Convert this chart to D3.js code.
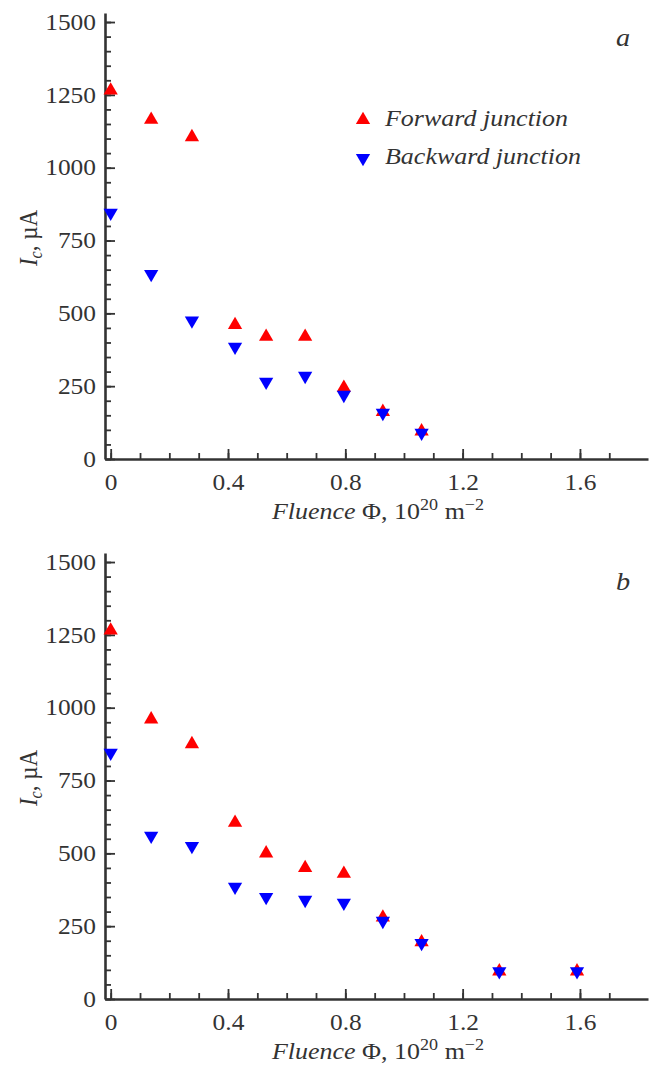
<!DOCTYPE html>
<html>
<head>
<meta charset="utf-8">
<script src="https://cdn.jsdelivr.net/npm/d3@7"></script>
<style>
  body { margin: 0; background: #fff; }
  svg text { font-family: "Liberation Serif", "Times New Roman", serif; fill: #333; }
</style>
</head>
<body>
<div id="chart"></div>
<script>
// fluence values (10^20 m^-2)
const fluenceA = [0, 0.138, 0.277, 0.424, 0.53, 0.663, 0.795, 0.928, 1.06];
const fluenceB = [0, 0.138, 0.277, 0.424, 0.53, 0.663, 0.795, 0.928, 1.06, 1.325, 1.59];

// critical current, uA
const forwardA = [1265, 1165, 1105, 460, 420, 420, 245, 162, 95];
const backwardA = [845, 635, 475, 385, 265, 285, 220, 158, 90];
const forwardB = [1265, 960, 875, 605, 500, 450, 430, 280, 195, 95, 95];
const backwardB = [845, 560, 525, 385, 350, 340, 330, 268, 192, 95, 95];

const seriesNames = ["Forward junction", "Backward junction"];
const seriesColors = ["#ff0000", "#0000ff"];
const xTicks = [0, 0.4, 0.8, 1.2, 1.6];
const yTicks = [0, 250, 500, 750, 1000, 1250, 1500];

const width = 650, height = 1073;
const sx = 1.13; // text in the figure is a bit wider than tall

const svg = d3.select("#chart").append("svg")
  .attr("width", width)
  .attr("height", height);

const tri = d3.symbol().type(d3.symbolTriangle).size(88)();

function panel(top, xs, fwd, bwd, letter, leg) {
  const g = svg.append("g").attr("transform", `translate(0,${top})`);

  const x = d3.scaleLinear().domain([-0.0194, 1.832]).range([105, 648]);
  const y = d3.scaleLinear().domain([0, 1531]).range([459, 13]);

  // minor ticks
  g.append("g")
    .attr("transform", "translate(105,0)")
    .call(d3.axisLeft(y).tickValues(d3.range(0, 1501, 50)).tickSize(-6).tickFormat(""))
    .call(s => s.select(".domain").remove());
  g.append("g")
    .attr("transform", "translate(0,459)")
    .call(d3.axisBottom(x).tickValues(d3.range(0, 18).map(i => i / 10)).tickSize(-6).tickFormat(""))
    .call(s => s.select(".domain").remove());

  // major ticks + labels
  const ya = g.append("g")
    .attr("transform", "translate(105,0)")
    .call(d3.axisLeft(y).tickValues(yTicks).tickSize(-10).tickSizeOuter(0).tickPadding(9)
      .tickFormat(d3.format("d")));
  const xa = g.append("g")
    .attr("transform", "translate(0,459)")
    .call(d3.axisBottom(x).tickValues(xTicks).tickSize(-10).tickSizeOuter(0).tickPadding(15)
      .tickFormat(d => d === 0 ? "0" : d3.format(".1f")(d)));

  g.selectAll(".tick line").attr("stroke", "#333").attr("stroke-width", 1.8);
  [ya, xa].forEach(a => {
    a.select(".domain").attr("stroke", "#333").attr("stroke-width", 2.6);
    a.selectAll("text")
      .attr("font-size", 22.5)
      .attr("fill", "#333")
      .attr("transform", `scale(${sx},1)`);
  });
  ya.selectAll("text").attr("x", -9 / sx);

  // y label
  const yl = g.append("g")
    .attr("transform", `translate(37,238) scale(${sx},1) rotate(-90)`)
    .append("text")
    .attr("text-anchor", "middle")
    .attr("font-size", 23);
  yl.append("tspan").attr("font-style", "italic").text("I");
  yl.append("tspan").attr("font-style", "italic").attr("font-size", 16).attr("dy", 4).text("c");
  yl.append("tspan").attr("dy", -4).text(", \u00b5A");

  // x label
  const xl = g.append("g")
    .attr("transform", `translate(378,519) scale(${sx},1)`)
    .append("text")
    .attr("text-anchor", "middle")
    .attr("font-size", 23);
  xl.append("tspan").attr("font-style", "italic").text("Fluence");
  xl.append("tspan").text(" \u03a6, 10");
  xl.append("tspan").attr("font-size", 16).attr("baseline-shift", "9").text("20");
  xl.append("tspan").text(" m");
  xl.append("tspan").attr("font-size", 16).attr("baseline-shift", "9").text("\u22122");

  // panel letter
  g.append("text")
    .attr("transform", `translate(616,${letter === "a" ? 46 : 50}) scale(${sx},1)`)
    .attr("font-size", 25)
    .attr("font-style", "italic")
    .text(letter);

  // points: forward (up triangles) then backward (down) on top
  g.append("g").selectAll("path")
    .data(xs.map((v, i) => [v, fwd[i]]))
    .join("path")
    .attr("d", tri)
    .attr("fill", seriesColors[0])
    .attr("transform", d => `translate(${x(d[0])},${y(d[1])})`);
  g.append("g").selectAll("path")
    .data(xs.map((v, i) => [v, bwd[i]]))
    .join("path")
    .attr("d", tri)
    .attr("fill", seriesColors[1])
    .attr("transform", d => `translate(${x(d[0])},${y(d[1])}) rotate(180)`);

  // legend
  seriesNames.forEach((name, i) => {
    const ly = leg.y + i * leg.dy;
    g.append("path")
      .attr("d", tri)
      .attr("fill", seriesColors[i])
      .attr("transform", `translate(${leg.x},${ly}) rotate(${i ? 180 : 0})`);
    g.append("text")
      .attr("transform", `translate(${leg.x + 22},${ly + 6}) scale(${sx},1)`)
      .attr("font-size", 23)
      .attr("font-style", "italic")
      .text(name);
  });
}

panel(0, fluenceA, forwardA, backwardA, "a", {x: 363, y: 120, dy: 38});
panel(540, fluenceB, forwardB, backwardB, "b", {x: 357, y: 644, dy: 38});
</script>
</body>
</html>
